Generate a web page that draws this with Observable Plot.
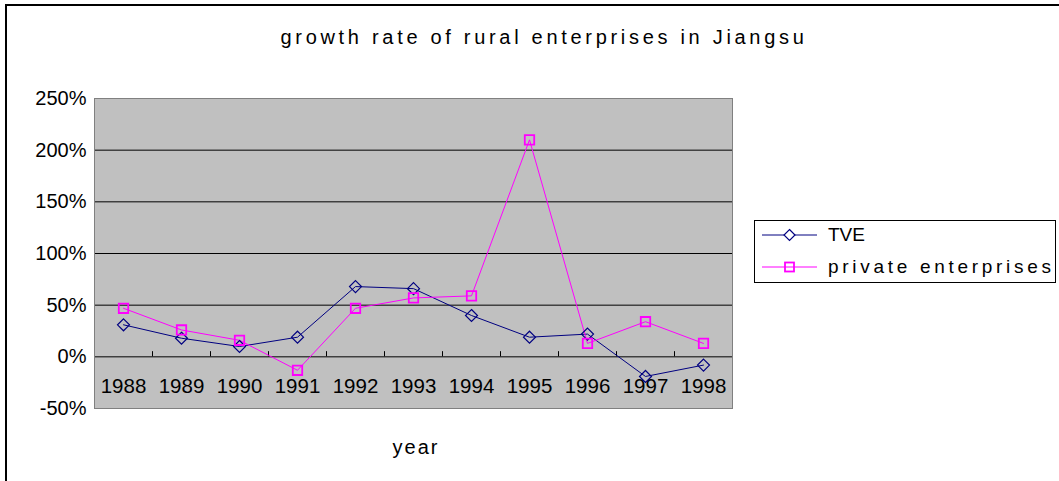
<!DOCTYPE html>
<html>
<head>
<meta charset="utf-8">
<script src="https://cdn.jsdelivr.net/npm/d3@7"></script>
<script src="https://cdn.jsdelivr.net/npm/@observablehq/plot@0.6"></script>
<style>
  html, body { margin: 0; padding: 0; background: #fff; }
  #wrap { position: relative; width: 1059px; height: 481px; overflow: hidden; font-family: "Liberation Sans", Arial, sans-serif; color: #000; }
  #wrap svg.plot { position: absolute; left: 0; top: 0; }
  #border { position: absolute; left: 5px; top: 4px; right: -10px; bottom: -10px; border-top: 2px solid #000; border-left: 2px solid #000; pointer-events: none; }
  #title { position: absolute; left: 544px; top: 26px; transform: translateX(-50%); font-size: 20px; letter-spacing: 3.7px; white-space: nowrap; line-height: 22px; }
  #xlabel { position: absolute; left: 416px; top: 436px; transform: translateX(-50%); font-size: 20px; letter-spacing: 2px; line-height: 22px; }
  #legend { position: absolute; left: 754px; top: 220px; width: 302px; height: 63px; border: 1.5px solid #000; box-sizing: border-box; background: #fff; }
  .item { position: absolute; left: 0; height: 22px; display: flex; align-items: center; white-space: nowrap; font-size: 19px; }
  .item svg { margin-left: 7px; margin-right: 11px; }
</style>
</head>
<body>
<div id="wrap">
  <div id="chart"></div>
  <div id="title">growth rate of rural enterprises in Jiangsu</div>
  <div id="xlabel">year</div>
  <div id="legend"></div>
  <div id="border"></div>
</div>
<script>
const years = ["1988","1989","1990","1991","1992","1993","1994","1995","1996","1997","1998"];
const tveValues = [0.31, 0.18, 0.10, 0.19, 0.68, 0.66, 0.40, 0.19, 0.22, -0.19, -0.08];
const privateValues = [0.47, 0.26, 0.16, -0.13, 0.47, 0.57, 0.59, 2.10, 0.13, 0.34, 0.13];
const yTicks = [-0.5, 0, 0.5, 1, 1.5, 2, 2.5];
const gridValues = [0, 0.5, 1, 1.5, 2];
const seriesNames = ["TVE", "private enterprises"];
const seriesColors = ["#000080", "#FF00FF"];
const xLabelLevel = -0.29;

const tve = years.map((y, i) => ({year: y, value: tveValues[i], series: seriesNames[0]}));
const priv = years.map((y, i) => ({year: y, value: privateValues[i], series: seriesNames[1]}));

const W = 1059, H = 481;
const marginLeft = 94, marginRight = 327, marginTop = 98, marginBottom = 73;
const step = (W - marginLeft - marginRight) / years.length;

const chart = Plot.plot({
  width: W,
  height: H,
  marginLeft, marginRight, marginTop, marginBottom,
  style: {fontFamily: '"Liberation Sans", Arial, sans-serif', background: "transparent", color: "#000"},
  x: {type: "point", domain: years, padding: 0.5, axis: null},
  y: {domain: [-0.5, 2.5], axis: null},
  marks: [
    Plot.frame({fill: "#C0C0C0", stroke: null}),
    Plot.ruleY(gridValues, {stroke: "#000", strokeWidth: 1}),
    Plot.ruleX(years, {x: d => d, y1: 0, y2: 0.05, dx: step / 2, stroke: "#000", strokeWidth: 1}),
    Plot.frame({stroke: "#808080", strokeWidth: 1}),
    Plot.axisY(yTicks, {
      tickSize: 0, tickPadding: 8, fontSize: 20,
      tickFormat: d => Math.round(d * 100) + "%", label: null
    }),
    Plot.text(years, {x: d => d, y: () => xLabelLevel, text: d => d, fontSize: 20.5, fill: "#000"}),
    Plot.line(tve, {x: "year", y: "value", stroke: seriesColors[0], strokeWidth: 1}),
    Plot.line(priv, {x: "year", y: "value", stroke: seriesColors[1], strokeWidth: 1}),
    Plot.dot(tve, {x: "year", y: "value", symbol: "diamond2", r: 5.4, stroke: seriesColors[0], fill: "none", strokeWidth: 1.2}),
    Plot.dot(priv, {x: "year", y: "value", symbol: "square2", r: 6, stroke: seriesColors[1], fill: "none", strokeWidth: 1.8})
  ]
});
chart.classList.add("plot");
document.getElementById("chart").appendChild(chart);

// legend
const legend = document.getElementById("legend");
const markerSvg = [
  '<svg width="55" height="14"><line x1="0" y1="7" x2="55" y2="7" stroke="#000080" stroke-width="1"/><path d="M27.5,1.5L33,7L27.5,12.5L22,7Z" fill="#fff" stroke="#000080" stroke-width="1.2"/></svg>',
  '<svg width="55" height="14"><line x1="0" y1="7" x2="55" y2="7" stroke="#FF00FF" stroke-width="1"/><rect x="23" y="2.5" width="9" height="9" fill="none" stroke="#FF00FF" stroke-width="1.8"/></svg>'
];
const tops = [7, 39];
const spacing = ["0px", "3.7px"];
seriesNames.forEach((name, i) => {
  const div = document.createElement("div");
  div.className = "item";
  div.style.top = (tops[i] - 11 + 7) + "px";
  div.innerHTML = markerSvg[i] + '<span style="letter-spacing:' + spacing[i] + '">' + name + '</span>';
  legend.appendChild(div);
});
</script>
</body>
</html>
